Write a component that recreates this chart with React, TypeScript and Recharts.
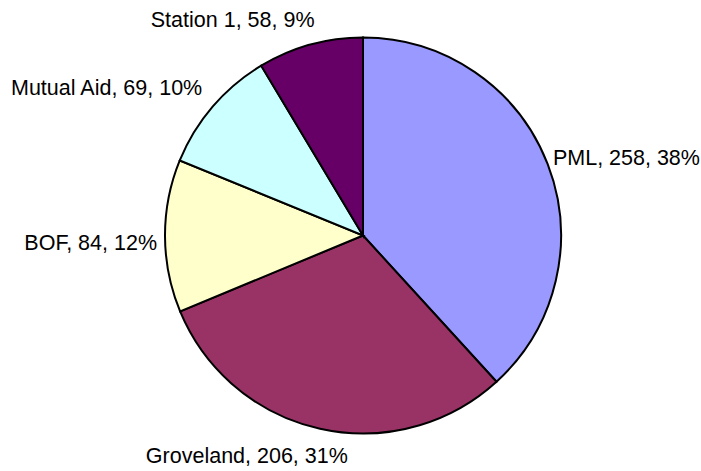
import { Cell, Pie, PieChart } from "recharts";

const NAMES = ["PML", "Groveland", "BOF", "Mutual Aid", "Station 1"];
const VALUES = [258, 206, 84, 69, 58];
const COLORS = ["#9999ff", "#993366", "#ffffcc", "#ccffff", "#660066"];

// small per-label nudges so the text sits where the original put it
const LABEL_NUDGE: [number, number][] = [
  [-4, 0],
  [30, 10],
  [2, 6],
  [-3, -8],
  [7, -8]
];

const RAD = Math.PI / 180;
const CAP = 15;

const data = NAMES.map((name, i) => ({ name, value: VALUES[i] }));

function renderLabel(props: any) {
  const { cx, cy, midAngle, outerRadius, index, percent, name, value } = props;
  const sx = Math.cos(midAngle * RAD);
  const sy = -Math.sin(midAngle * RAD);
  const r = outerRadius + 10;
  const px = cx + r * sx;
  const py = cy + r * sy;
  const g = (1 - sy) / 2;
  const [dx, dy] = LABEL_NUDGE[index] ?? [0, 0];
  return (
    <text
      x={px + dx}
      y={py - g * CAP + CAP + dy}
      textAnchor={sx > 0 ? "start" : "end"}
      fill="#000"
      fontSize={21.5}
      fontFamily="'Liberation Sans', Arial, sans-serif"
    >
      {`${name}, ${value}, ${Math.round(percent * 100)}%`}
    </text>
  );
}

export default function App() {
  return (
    <div style={{ position: "absolute", left: 0, top: 0, background: "#fff" }}>
      <PieChart
        width={701}
        height={471}
        margin={{ top: 0, right: 0, bottom: 0, left: 0 }}
      >
        <Pie
          data={data}
          dataKey="value"
          nameKey="name"
          cx={363}
          cy={235.5}
          outerRadius={198}
          startAngle={90}
          endAngle={-270}
          stroke="#000"
          strokeWidth={2}
          label={renderLabel}
          labelLine={false}
          isAnimationActive={false}
        >
          {data.map((_, i) => (
            <Cell key={i} fill={COLORS[i]} />
          ))}
        </Pie>
      </PieChart>
    </div>
  );
}
